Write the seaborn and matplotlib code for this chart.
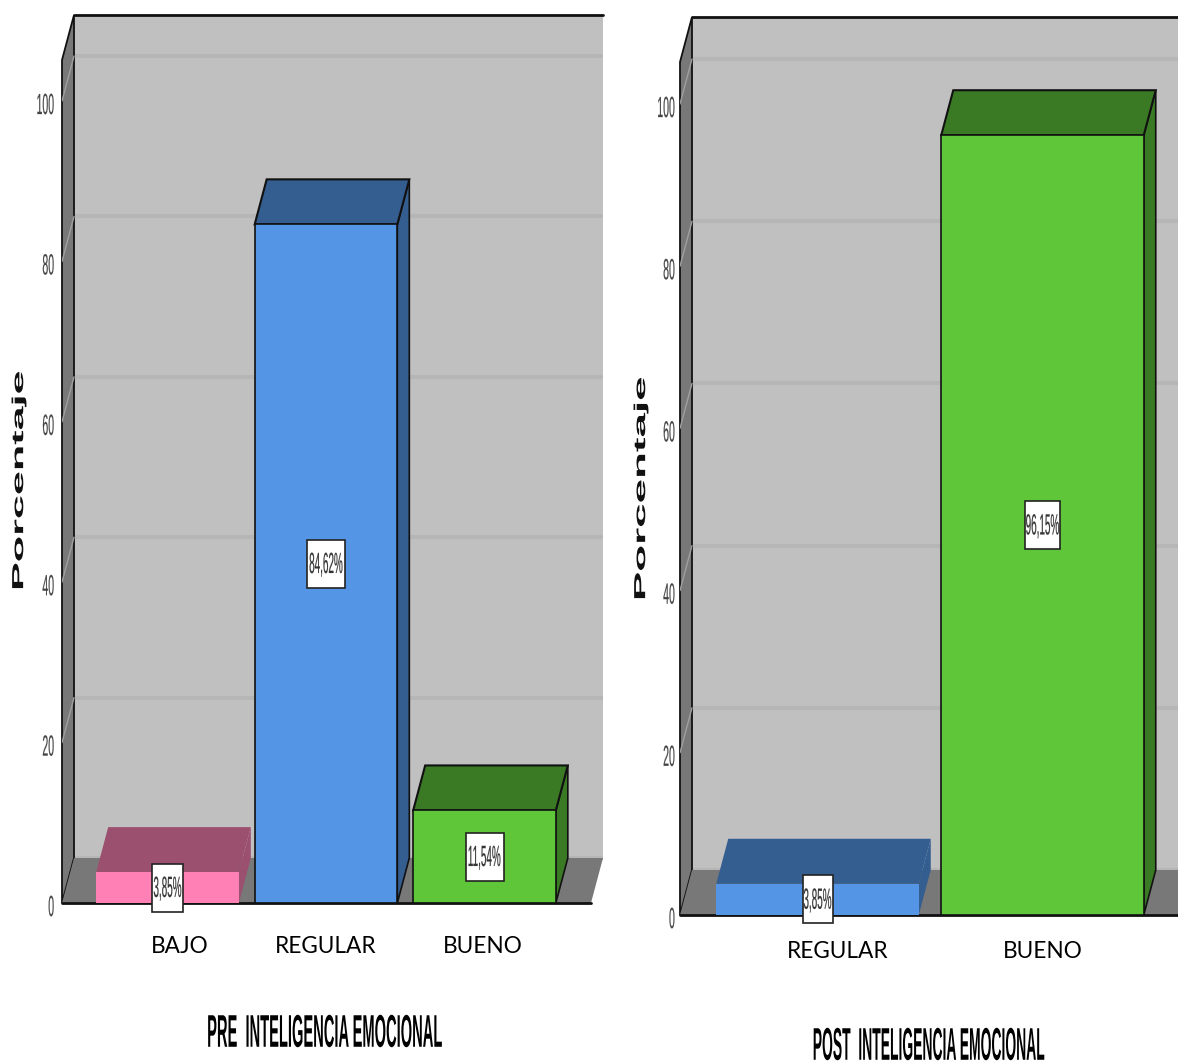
import matplotlib
matplotlib.use("Agg")
import matplotlib.pyplot as plt
from matplotlib.colors import to_rgba
from matplotlib.patches import Polygon, Rectangle
from matplotlib.text import Text
from matplotlib.textpath import TextPath
from matplotlib.transforms import Affine2D, Bbox
import pandas as pd
import seaborn as sns

W, H = 1178, 1061

pre_categories = ["BAJO", "REGULAR", "BUENO"]
pre_values = [3.85, 84.62, 11.54]
pre_labels = ["3,85%", "84,62%", "11,54%"]
pre_colors = ["#FF80B5", "#5595E6", "#5FC639"]
pre_dark = ["#9C5070", "#345D90", "#3B7A25"]
pre_title = "PRE  INTELIGENCIA EMOCIONAL"

post_categories = ["REGULAR", "BUENO"]
post_values = [3.85, 96.15]
post_labels = ["3,85%", "96,15%"]
post_colors = ["#5595E6", "#5FC639"]
post_dark = ["#345D90", "#3B7A25"]
post_title = "POST  INTELIGENCIA EMOCIONAL"

y_ticks = [0, 20, 40, 60, 80, 100]
SANS = "Liberation Sans"


class SqueezedText(Text):
    """Real text, drawn with its own scales (the source uses stretched lettering)."""

    def __init__(self, *args, xscale=1.0, yscale=1.0, stroke=0.0, **kwargs):
        super().__init__(*args, **kwargs)
        self.xscale = xscale
        self.yscale = yscale
        self.stroke = stroke
        self.shift = 0

    def _layout_path(self):
        fp = self.get_fontproperties()
        path = TextPath((0, 0), self.get_text(), prop=fp, size=fp.get_size_in_points())
        ext = path.get_extents()
        k = self.get_figure().dpi / 72
        w, h = ext.width * self.xscale * k, ext.height * self.yscale * k
        ha, va = self.get_ha(), self.get_va()
        ox = {"left": 0, "center": -w / 2, "right": -w}[ha]
        oy = 0 if va == "bottom" else -h if va == "top" else -h / 2
        x, y = self.get_transform().transform(self.get_unitless_position())
        tr = (Affine2D().translate(-ext.x0, -ext.y0).scale(self.xscale * k, self.yscale * k)
              .translate(ox, oy - self.shift).rotate_deg(self.get_rotation()).translate(x, y))
        return path, tr

    def draw(self, renderer):
        if not self.get_visible() or not self.get_text():
            return
        path, tr = self._layout_path()
        gc = renderer.new_gc()
        gc.set_linewidth(self.stroke)
        gc.set_foreground(self.get_color())
        renderer.draw_path(gc, path, tr, rgbFace=to_rgba(self.get_color()))
        gc.restore()

    def get_window_extent(self, renderer=None, dpi=None):
        if not self.get_text():
            return Bbox.null()
        path, tr = self._layout_path()
        return path.transformed(tr).get_extents()


sns.set_theme(style="white")
fig = plt.figure(figsize=(W / 100, H / 100), dpi=100, facecolor="white")


def panel(cats, vals, labels, colors, darks, title, *, left, right, top, zero, unit,
          first, step, tick_shift, title_xy, title_scale, xtick_pad, ylabel_xy, ylabel_scale,
          box_widths, ytick_pad):
    dx_px, dy_px = 12, 45
    ax = fig.add_axes([left / W, 1 - zero / H, (right - left) / W, (zero - top) / H])
    df = pd.DataFrame({"cat": cats, "val": vals})
    sns.barplot(data=df, x="cat", y="val", hue="cat", order=cats, hue_order=cats,
                palette=colors, width=0.9, gap=0, saturation=1, legend=False,
                ax=ax, zorder=5, linewidth=0)
    ax.set_xlim((left - first) / step, (right - first) / step)
    ax.set_ylim(0, (zero - top) / unit)
    xmin, xmax = ax.get_xlim()
    ymax = ax.get_ylim()[1]
    dx, dy = dx_px / step, dy_px / unit

    # back wall, side wall, floor
    ax.add_patch(Polygon([(xmin + dx, dy), (xmax, dy), (xmax, ymax), (xmin + dx, ymax)],
                         fc="#C0C0C0", ec="none", zorder=1))
    ax.add_patch(Polygon([(xmin, 0), (xmin + dx, dy), (xmin + dx, ymax), (xmin, ymax - dy)],
                         fc="#787878", ec="#111111", lw=1.3, zorder=2, clip_on=False))
    ax.add_patch(Polygon([(xmin, 0), (xmin + dx, dy), (xmax, dy), (xmax - dx, 0)],
                         fc="#787878", ec="none", zorder=2))
    ax.plot([xmin + dx, xmax], [ymax, ymax], color="#111111", lw=2, zorder=3, clip_on=False)
    ax.plot([xmin, xmax - dx], [0, 0], color="#111111", lw=2, zorder=3, clip_on=False)
    for t in y_ticks:
        ax.plot([xmin + dx, xmax], [t + dy, t + dy], color="#B6B6B6", lw=3, zorder=1.5)
        if t:
            ax.plot([xmin, xmin + dx], [t, t + dy], color="#A0A0A0", lw=1, zorder=2.5)

    # bar depth faces and value boxes
    bars = list(ax.patches)[:len(vals)]
    for bar, val, lab, dark, bw_px in zip(bars, vals, labels, darks, box_widths):
        x0, x1 = bar.get_x(), bar.get_x() + bar.get_width()
        edge = "#111111" if val > 5 else "none"
        bar.set_edgecolor(edge)
        bar.set_linewidth(1.2)
        ax.add_patch(Polygon([(x1, 0), (x1 + dx, dy), (x1 + dx, val + dy), (x1, val)],
                             fc=dark, ec=edge, lw=1.2, zorder=4))
        ax.add_patch(Polygon([(x0, val), (x0 + dx, val + dy), (x1 + dx, val + dy), (x1, val)],
                             fc=dark, ec=edge, lw=1.5, zorder=4))
        cx = (x0 + x1) / 2
        bw, bh = bw_px / step, 48 / unit
        ax.add_patch(Rectangle((cx - bw / 2, val / 2 - bh / 2), bw, bh, fc="white",
                               ec="#222222", lw=1.2, zorder=6, clip_on=False))
        txt = SqueezedText(cx, val / 2, lab, ha="center", va="center", fontsize=21,
                           family=SANS, color="#333333", zorder=7, xscale=0.34,
                           stroke=0.12, transform=ax.transData)
        txt.shift = 1
        ax.add_artist(txt)

    ax.set_xticks([i + s for i, s in enumerate(tick_shift)])
    ax.set_xticklabels(cats, family="Lato", fontsize=16.3, color="black")
    ax.tick_params(axis="x", length=0, pad=xtick_pad)
    ax.set_yticks(y_ticks)
    ax.set_yticklabels([str(t) for t in y_ticks], family=SANS, fontsize=21, color="#444444")
    ax.tick_params(axis="y", length=0, pad=ytick_pad)
    for lbl in ax.get_yticklabels():
        lbl.__class__ = SqueezedText
        lbl.xscale, lbl.yscale, lbl.stroke, lbl.shift = 0.36, 1.0, 0.12, 3
    ax.set_xlabel("")
    ax.set_ylabel("")
    for s in ax.spines.values():
        s.set_visible(False)
    ax.patch.set_visible(False)

    fig.add_artist(SqueezedText(ylabel_xy[0] / W, 1 - ylabel_xy[1] / H, "Porcentaje",
                                rotation=90, ha="center", va="center", family=SANS,
                                fontweight="bold", fontsize=11.5, color="#111111",
                                xscale=ylabel_scale, transform=fig.transFigure))
    fig.add_artist(SqueezedText(title_xy[0] / W, 1 - title_xy[1] / H, title, ha="center",
                                va="center", family=SANS, fontweight="bold", fontsize=14,
                                color="black", xscale=title_scale, yscale=33 / 14,
                                transform=fig.transFigure))


panel(pre_categories, pre_values, pre_labels, pre_colors, pre_dark, pre_title,
      left=62, right=603, top=15, zero=903, unit=8.02, first=167.5, step=158.5,
      tick_shift=[0.08, 0, -0.01], title_xy=(325, 1031), title_scale=0.755, xtick_pad=24,
      ylabel_xy=(19, 480), ylabel_scale=2.7, box_widths=[31, 38, 38], ytick_pad=6)
panel(post_categories, post_values, post_labels, post_colors, post_dark, post_title,
      left=680, right=1190, top=17, zero=915, unit=8.11, first=817.5, step=225,
      tick_shift=[0.089, 0], title_xy=(929, 1044), title_scale=0.715, xtick_pad=19,
      ylabel_xy=(641, 488), ylabel_scale=2.75, box_widths=[30, 35], ytick_pad=4)

fig.savefig("out.png", dpi=100, facecolor="white")
